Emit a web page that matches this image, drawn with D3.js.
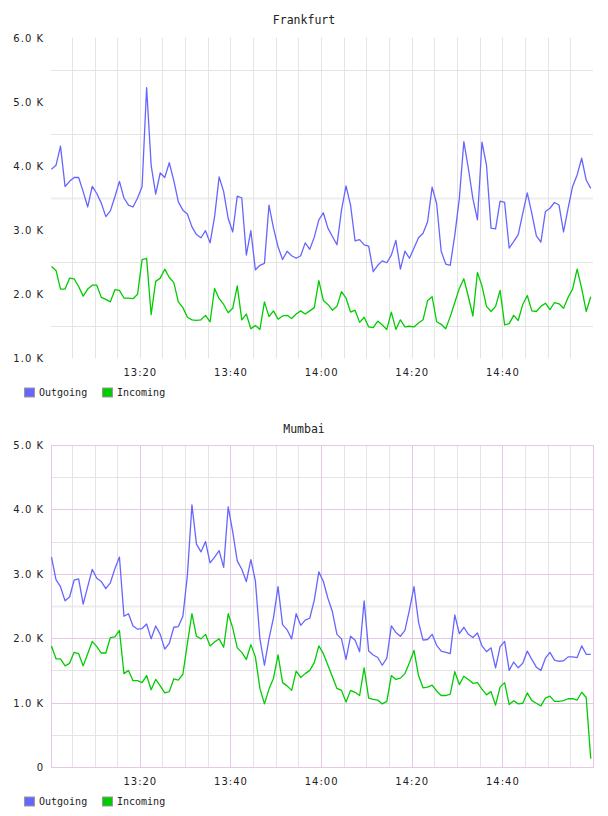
<!DOCTYPE html>
<html>
<head>
<meta charset="utf-8">
<script src="https://cdn.jsdelivr.net/npm/d3@7/dist/d3.min.js"></script>
<style>
  body { margin: 0; background: #fff; }
  svg { display: block; }
  .title, .legend text { font-family: "DejaVu Sans Mono", monospace; fill: #222; }
  .tick text { font-family: "DejaVu Sans", sans-serif; font-size: 10px; letter-spacing: 1px; fill: #222; }
</style>
</head>
<body>
<script>
// sample times: one reading a minute
const startTime = "13:00:30";
const stepSeconds = 60;
const domainStart = "13:00:24";
const domainEnd = "15:00:00";

const seriesNames = ["Outgoing", "Incoming"];

const frankfurtTicks = [1000, 2000, 3000, 4000, 5000, 6000];
const mumbaiTicks = [0, 1000, 2000, 3000, 4000, 5000];

const frankfurtOut = [
  3950, 4010, 4310, 3680, 3760, 3820, 3820, 3600, 3360, 3680,
  3570, 3420, 3210, 3300, 3520, 3760, 3500, 3390, 3360, 3500,
  3680, 5220, 4010, 3560, 3890, 3820, 4050, 3770, 3440, 3310,
  3250, 3050, 2930, 2880, 2990, 2800, 3210, 3830, 3600, 3180,
  2970, 3530, 3500, 2610, 2990, 2380, 2450, 2480, 3390, 3030,
  2740, 2540, 2670, 2600, 2560, 2600, 2800, 2700, 2890, 3160,
  3270, 3030, 2900, 2770, 3310, 3690, 3390, 2830, 2850, 2770,
  2750, 2350, 2450, 2520, 2490, 2610, 2840, 2390, 2670, 2560,
  2720, 2880, 2950, 3130, 3670, 3410, 2670, 2470, 2450, 2920,
  3490, 4380, 3960, 3490, 3160, 4370, 4010, 3030, 3020, 3450,
  3430, 2720, 2820, 2930, 3260, 3580, 3260, 2910, 2810, 3290,
  3340, 3430, 3390, 2970, 3340, 3680, 3860, 4120, 3780, 3650
];
const frankfurtIn = [
  2430, 2370, 2080, 2080, 2250, 2240, 2120, 1970, 2080, 2140,
  2140, 1950, 1920, 1880, 2070, 2060, 1940, 1940, 1930, 2000,
  2540, 2560, 1680, 2200, 2250, 2390, 2260, 2180, 1880, 1790,
  1640, 1600, 1590, 1600, 1670, 1570, 2090, 1930, 1840, 1710,
  1780, 2130, 1600, 1690, 1460, 1510, 1450, 1880, 1650, 1740,
  1610, 1660, 1670, 1620, 1690, 1740, 1690, 1740, 1790, 2210,
  1900, 1840, 1750, 1810, 2040, 1940, 1720, 1750, 1560, 1640,
  1490, 1480, 1580, 1520, 1450, 1720, 1450, 1600, 1490, 1500,
  1490, 1550, 1600, 1900, 1960, 1570, 1530, 1460, 1650, 1870,
  2090, 2240, 1960, 1660, 2340, 2130, 1810, 1730, 1810, 2060,
  1520, 1540, 1670, 1590, 1840, 1980, 1740, 1730, 1810, 1860,
  1760, 1870, 1850, 1780, 1950, 2080, 2390, 2090, 1730, 1960
];
const mumbaiOut = [
  3260, 2910, 2800, 2580, 2640, 2900, 2920, 2530, 2800, 3070,
  2930, 2880, 2770, 2860, 3080, 3260, 2340, 2380, 2190, 2140,
  2150, 2220, 1990, 2190, 2060, 1830, 1920, 2170, 2180, 2340,
  2980, 4070, 3460, 3340, 3500, 3170, 3260, 3360, 3100, 4040,
  3650, 3200, 3070, 2880, 3220, 2890, 1990, 1580, 1990, 2320,
  2800, 2210, 2130, 1990, 2380, 2200, 2280, 2310, 2590, 3030,
  2880, 2620, 2410, 2060, 1990, 1670, 2030, 1970, 1790, 2580,
  1800, 1740, 1700, 1580, 1690, 2190, 2090, 2030, 2120, 2440,
  2800, 2250, 1970, 1980, 2060, 1890, 1800, 1780, 1760, 2360,
  2070, 2170, 2060, 2010, 2080, 1880, 1790, 1850, 1540, 1870,
  1950, 1500, 1630, 1540, 1610, 1800, 1670, 1550, 1500, 1690,
  1780, 1660, 1640, 1650, 1710, 1710, 1700, 1880, 1750, 1750
];
const mumbaiIn = [
  1880, 1680, 1680, 1570, 1610, 1780, 1760, 1570, 1760, 1950,
  1870, 1770, 1770, 2010, 2020, 2120, 1450, 1500, 1340, 1340,
  1310, 1420, 1200, 1360, 1260, 1150, 1170, 1370, 1350, 1440,
  1920, 2380, 2030, 1990, 2060, 1880, 1940, 1990, 1860, 2380,
  2160, 1850, 1780, 1670, 1900, 1710, 1220, 980, 1210, 1380,
  1740, 1310, 1260, 1190, 1490, 1390, 1450, 1500, 1620, 1880,
  1760, 1580, 1400, 1220, 1190, 1010, 1190, 1160, 1110, 1540,
  1070, 1050, 1040, 980, 1020, 1420, 1360, 1380, 1450, 1620,
  1810, 1420, 1230, 1240, 1270, 1180, 1110, 1110, 1130, 1480,
  1280, 1410, 1360, 1300, 1310, 1210, 1120, 1170, 960, 1240,
  1310, 970, 1030, 980, 990, 1150, 1030, 990, 950, 1070,
  1100, 1020, 1020, 1030, 1060, 1060, 1040, 1160, 1080, 130
];

const colors = { Outgoing: "#6666ff", Incoming: "#00cc00" };
const gridGray = "#e4e4e4";
const gridPurple = "#e3c9e3";

const W = 608, H = 816;
const left = 51, right = 593;

const parse = d3.timeParse("%H:%M:%S");
const t0 = parse(startTime);

const svg = d3.select("body").append("svg")
  .attr("width", W)
  .attr("height", H);

svg.append("rect").attr("width", W).attr("height", H).attr("fill", "#fff");

const fmtK = v => v === 0 ? "0" : (v / 1000).toFixed(1) + " K";

function drawPanel(cfg) {
  const g = svg.append("g");
  const x = d3.scaleTime()
    .domain([parse(domainStart), parse(domainEnd)])
    .range([left, right]);
  const y = d3.scaleLinear()
    .domain(d3.extent(cfg.ticks))
    .range([cfg.bottom, cfg.top]);

  const minor = x.ticks(d3.timeMinute.every(5))
    .filter(d => x(d) < right - 1);
  const isMajor = d => d.getMinutes() % 20 === 0;

  // half-step horizontal grid
  const halves = d3.range(cfg.ticks[0] + 500, cfg.ticks[cfg.ticks.length - 1], 1000);
  g.append("g").selectAll("line")
    .data(halves)
    .join("line")
    .attr("x1", left).attr("x2", right)
    .attr("y1", d => Math.round(y(d)) + 0.5).attr("y2", d => Math.round(y(d)) + 0.5)
    .attr("stroke", d => d === cfg.thick ? "#ededed" : gridGray)
    .attr("stroke-width", d => d === cfg.thick ? 2 : 1);

  g.append("g").selectAll("line")
    .data(minor.filter(d => !(cfg.framed && isMajor(d))))
    .join("line")
    .attr("x1", d => Math.round(x(d)) + 0.5).attr("x2", d => Math.round(x(d)) + 0.5)
    .attr("y1", cfg.top).attr("y2", cfg.bottom)
    .attr("stroke", gridGray);

  if (cfg.framed) {
    g.append("g").selectAll("line")
      .data(cfg.ticks.slice(1, -1))
      .join("line")
      .attr("x1", left).attr("x2", right)
      .attr("y1", d => Math.round(y(d)) + 0.5).attr("y2", d => Math.round(y(d)) + 0.5)
      .attr("stroke", gridPurple);
    g.append("g").selectAll("line")
      .data(minor.filter(isMajor))
      .join("line")
      .attr("x1", d => Math.round(x(d)) + 0.5).attr("x2", d => Math.round(x(d)) + 0.5)
      .attr("y1", cfg.top).attr("y2", cfg.bottom)
      .attr("stroke", gridPurple);
    g.append("rect")
      .attr("x", left + 0.5).attr("y", Math.round(cfg.top) + 0.5)
      .attr("width", right - left).attr("height", Math.round(cfg.bottom) - Math.round(cfg.top))
      .attr("fill", "none")
      .attr("stroke", gridPurple);
  }

  // y labels
  g.append("g")
    .attr("transform", "translate(44,0)")
    .call(d3.axisLeft(y).tickValues(cfg.ticks).tickFormat(fmtK).tickSize(0).tickPadding(0))
    .call(a => a.select(".domain").remove())
    .call(a => a.selectAll("text").attr("dy", "0.35em"));

  // x labels
  g.append("g")
    .attr("transform", `translate(0,${cfg.bottom})`)
    .call(d3.axisBottom(x)
      .tickValues(minor.filter(isMajor))
      .tickFormat(d3.timeFormat("%H:%M"))
      .tickSize(0).tickPadding(0))
    .call(a => a.select(".domain").remove())
    .call(a => a.selectAll("text").attr("dy", "1.75em"));

  const line = d3.line()
    .x((d, i) => x(d3.timeSecond.offset(t0, i * stepSeconds)))
    .y(d => y(d));

  g.append("g").selectAll("path")
    .data(cfg.series)
    .join("path")
    .attr("fill", "none")
    .attr("stroke", d => colors[d.name])
    .attr("stroke-width", 1.3)
    .attr("stroke-linejoin", "round")
    .attr("d", d => line(d.values));

  g.append("text")
    .attr("class", "title")
    .attr("x", 304).attr("y", cfg.titleY)
    .attr("text-anchor", "middle")
    .attr("dy", "0.35em")
    .attr("font-size", "11.5px")
    .text(cfg.title);

  const legend = g.append("g")
    .attr("class", "legend")
    .attr("transform", `translate(0,${cfg.legendY})`);
  const item = legend.selectAll("g")
    .data(seriesNames)
    .join("g")
    .attr("transform", (d, i) => `translate(${24.5 + i * 78},0)`);
  item.append("rect")
    .attr("x", 0).attr("y", -4.5)
    .attr("width", 10).attr("height", 9)
    .attr("fill", d => colors[d])
    .attr("stroke", "#999");
  item.append("text")
    .attr("x", 14.5).attr("dy", "0.35em")
    .attr("font-size", "10px")
    .text(d => d);
}

drawPanel({
  title: "Frankfurt",
  titleY: 20,
  top: 37.7,
  bottom: 358.3,
  ticks: frankfurtTicks,
  thick: 3500,
  framed: false,
  legendY: 392.5,
  series: [
    { name: "Outgoing", values: frankfurtOut },
    { name: "Incoming", values: frankfurtIn }
  ]
});

drawPanel({
  title: "Mumbai",
  titleY: 429,
  top: 445,
  bottom: 767,
  ticks: mumbaiTicks,
  thick: 2500,
  framed: true,
  legendY: 801.5,
  series: [
    { name: "Outgoing", values: mumbaiOut },
    { name: "Incoming", values: mumbaiIn }
  ]
});
</script>
</body>
</html>
